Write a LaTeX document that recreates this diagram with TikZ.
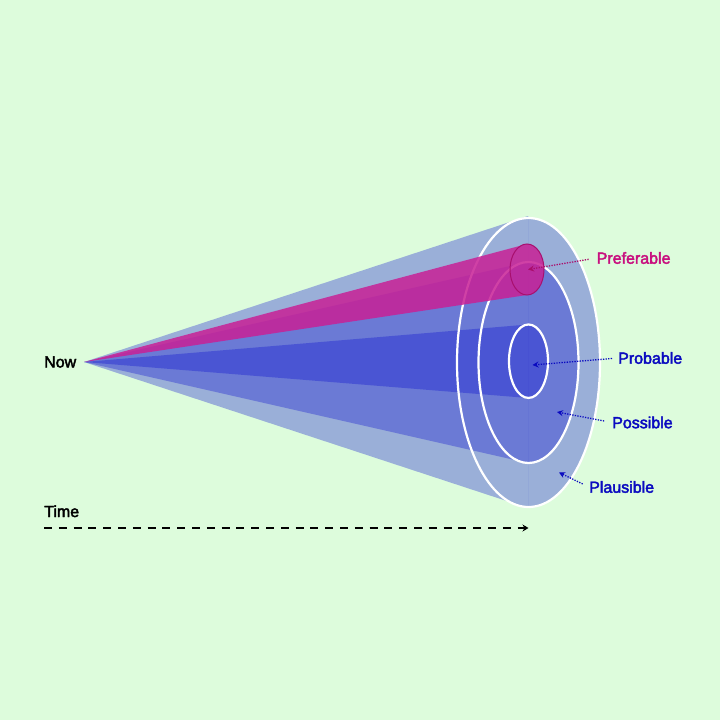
\documentclass[tikz,border=0pt]{standalone}
\usepackage{fontspec}
\setmainfont{Liberation Sans}[FakeBold=2.6]
\usetikzlibrary{arrows.meta}
\definecolor{bgmint}{HTML}{DDFCDC}
\definecolor{conebase}{HTML}{0000D0}
\definecolor{pinkfill}{HTML}{C82096}
\definecolor{pinkedge}{HTML}{A80F6E}
\definecolor{pinktext}{HTML}{C8107F}
\definecolor{bluetext}{HTML}{0A0AC0}
\tikzset{
  conefill/.style={fill=conebase,fill opacity=0.3,draw=none},
  pinkcone/.style={fill=pinkfill,fill opacity=0.85,draw=none},
  seam/.style={draw=conebase,draw opacity=0.04,line width=0.8pt},
  ring/.style={draw=white,line width=2.2pt},
  lbl/.style={font=\fontsize{16}{18}\selectfont,inner sep=0pt,anchor=west},
  pointer/.style={line width=1.3pt,dash pattern=on 1.3pt off 1.3pt,-{Stealth[length=6pt,width=6pt]}},
}
\begin{document}
\begin{tikzpicture}[x=1pt,y=-1pt]
\useasboundingbox (0,0) rectangle (720,720);
\fill[bgmint] (0,0) rectangle (720,720);
\coordinate (apex) at (84,362);
% plausible
\fill[conefill] (apex) -- (528,216) -- (528,218) arc[start angle=-90,end angle=90,x radius=72,y radius=144.5] -- (528,508) -- cycle;
% possible
\fill[conefill] (apex) -- (528,262) arc[start angle=-90,end angle=90,x radius=50,y radius=100.5] -- cycle;
% probable
\fill[conefill] (apex) -- (528,324.5) arc[start angle=-90,end angle=90,x radius=19.5,y radius=36.75] -- cycle;
\draw[seam] (528,216) -- (528,508);
% rings
\draw[ring] (528.5,362.5) ellipse[x radius=71.5,y radius=144.5];
\draw[ring] (528.5,362.5) ellipse[x radius=50,y radius=100.5];
\draw[ring] (528.5,361.2) ellipse[x radius=19.5,y radius=36.75];
% preferable
\fill[pinkcone] (apex) -- (527,244) arc[start angle=-90,end angle=90,x radius=17,y radius=25.5] -- cycle;
\draw[pinkedge,line width=1pt] (527,269.5) ellipse[x radius=17,y radius=25.5];
% labels
\node[lbl] (now) at (44,362) {Now};
\node[lbl,anchor=base west] (time) at (44,517) {Time};
\node[lbl,text=pinktext] (pref) at (596.5,258) {Preferable};
\node[lbl,text=bluetext] (prob) at (618,358) {Probable};
\node[lbl,text=bluetext] (poss) at (612,422.5) {Possible};
\node[lbl,text=bluetext] (plau) at (589,487) {Plausible};
% pointers
\coordinate (prefT) at (528,269.5);
\coordinate (probT) at (532.5,365);
\coordinate (possT) at (557,412);
\coordinate (plauT) at (559,472.5);
\draw[pointer,pinktext!85!black,shorten <=8pt] (pref.west) -- (prefT);
\draw[pointer,bluetext,shorten <=6pt] (prob.west) -- (probT);
\draw[pointer,bluetext,shorten <=8pt] (poss.west) -- (possT);
\draw[pointer,bluetext,shorten <=7pt] (plau.west) -- (plauT);
% time axis
\coordinate (t0) at (44,528);
\coordinate (t1) at (528.5,528);
\draw[black,line width=2pt,dash pattern=on 8pt off 6.8pt,-{Stealth[length=6pt,width=7pt]}] (t0) -- (t1);
\end{tikzpicture}
\end{document}
